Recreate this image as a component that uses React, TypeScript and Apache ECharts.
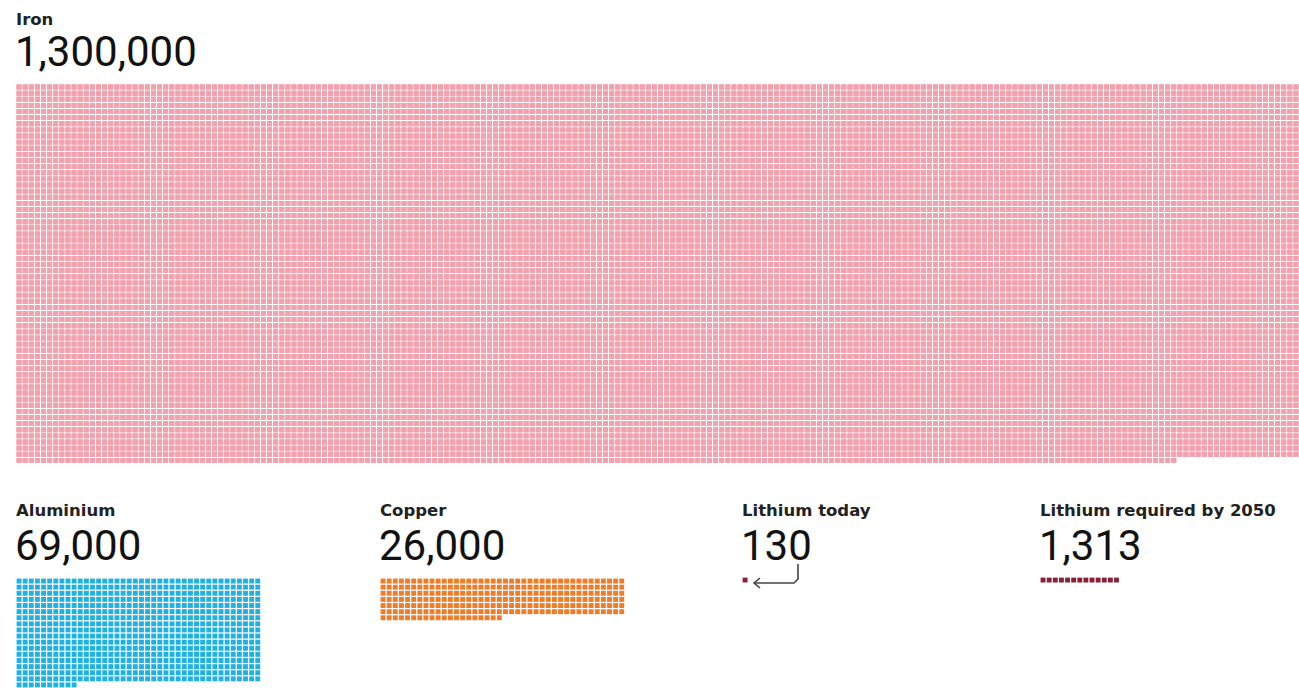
import React, { useEffect, useRef } from "react";
import * as echarts from "echarts";

// ---- data ----
const categories = ["Iron", "Aluminium", "Copper", "Lithium today", "Lithium required by 2050"];
const values = [1300000, 69000, 26000, 130, 1313];
const valueLabels = ["1,300,000", "69,000", "26,000", "130", "1,313"];
const unitPerSquare = 100;

// ---- layout / style (not data) ----
const PITCH = 6.12;
const SQ = 4.9;
const layout = [
  { left: 16, top: 84, cols: 210, labelY: 19, numY: 51 },
  { left: 16, top: 578, cols: 40, labelY: 510, numY: 545 },
  { left: 380, top: 578, cols: 40, labelY: 510, numY: 545 },
  { left: 742, top: 577, cols: 40, labelY: 510, numY: 545 },
  { left: 1040, top: 577, cols: 40, labelY: 510, numY: 545 },
];
const colors = ["#f2a2ae", "#1fb1e2", "#f27b25", "#8a2038", "#8a2038"];

export default function App() {
  const ref = useRef<HTMLDivElement>(null);
  useEffect(() => {
    document.body.style.margin = "0";
    const chart = echarts.init(ref.current!, null, { renderer: "svg" });
    const grids: any[] = [];
    const xAxes: any[] = [];
    const yAxes: any[] = [];
    const series: any[] = [];
    const graphics: any[] = [];
    categories.forEach((cat, i) => {
      const L = layout[i];
      const n = Math.round(values[i] / unitPerSquare);
      const rows = Math.max(1, Math.ceil(n / L.cols));
      grids.push({ left: L.left, top: L.top, width: L.cols * PITCH, height: rows * PITCH });
      xAxes.push({ type: "value", gridIndex: i, min: 0, max: L.cols, show: false });
      yAxes.push({ type: "value", gridIndex: i, min: 0, max: rows, inverse: true, show: false });
      const pts: number[][] = [];
      for (let k = 0; k < n; k++) {
        const r = Math.floor(k / L.cols);
        const c = k % L.cols;
        pts.push([c + 0.5, r + 0.5]);
      }
      series.push({
        type: "scatter",
        name: cat,
        xAxisIndex: i,
        yAxisIndex: i,
        symbol: "rect",
        symbolSize: SQ,
        large: n > 1000,
        largeThreshold: 1000,
        itemStyle: { color: colors[i], opacity: 1 },
        silent: true,
        data: pts,
      });
      graphics.push({
        type: "text",
        x: L.left,
        y: L.labelY,
        style: {
          text: cat,
          font: 'bold 16.5px "DejaVu Sans"',
          fill: "#222",
          verticalAlign: "middle",
        },
      });
      graphics.push({
        type: "text",
        x: L.left - 1,
        y: L.numY,
        style: {
          text: valueLabels[i],
          font: '42px Roboto',
          fill: "#111",
          verticalAlign: "middle",
        },
      });
    });
    // arrow pointing to "Lithium today" square
    graphics.push({
      type: "polyline",
      shape: { points: [[798, 564], [798, 579], [794, 583], [754, 583]] },
      style: { stroke: "#444", lineWidth: 1.6, fill: null },
    });
    graphics.push({
      type: "polyline",
      shape: { points: [[760, 578], [754, 583], [760, 588]] },
      style: { stroke: "#444", lineWidth: 1.6, fill: null },
    });
    chart.setOption({
      animation: false,
      backgroundColor: "#ffffff",
      grid: grids,
      xAxis: xAxes,
      yAxis: yAxes,
      series,
      graphic: graphics,
    });
    return () => chart.dispose();
  }, []);
  return <div ref={ref} style={{ width: 1299, height: 688 }} />;
}
